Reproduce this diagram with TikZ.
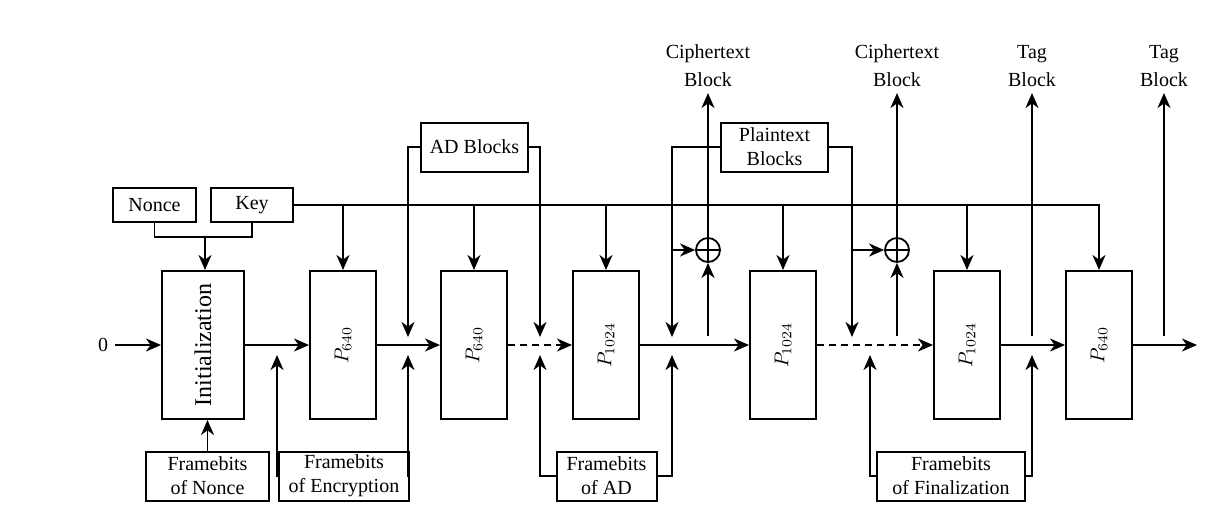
\documentclass[tikz,border=0pt]{standalone}
\usepackage{fontspec}
\setmainfont{Liberation Serif}
\usetikzlibrary{arrows.meta}
\tikzset{perm/.style={black,draw=black,line width=1pt,rectangle,rotate=90,minimum width=74pt,minimum height=33pt,inner sep=0pt}}
\tikzset{initbox/.style={perm,minimum height=41pt,font=\large}}
\tikzset{inbox/.style={black,draw=black,line width=1pt,rectangle,minimum height=17pt,inner sep=0pt}}
\tikzset{framebox/.style={black,draw=black,line width=1pt,rectangle,minimum height=24.5pt,inner sep=0pt,align=center}}
\tikzset{outlbl/.style={black,align=center,inner xsep=1pt,inner ysep=3pt,anchor=south}}
\tikzset{xorc/.style={draw=black,line width=0.9pt,circle,minimum size=12pt,inner sep=0pt,
  path picture={\draw[line width=0.9pt] (path picture bounding box.north) -- (path picture bounding box.south)
  (path picture bounding box.west) -- (path picture bounding box.east);}}}
\tikzset{bus/.style={line width=0.95pt}}
\tikzset{conn/.style={line width=0.95pt,-{Stealth[length=7.5pt,width=6.5pt,inset=2.3pt]}}}

\begin{document}
\begin{tikzpicture}[x=0.5pt,y=-0.5pt]
    \useasboundingbox (0,0) rectangle (1216,521);

    % inputs
    \node[inbox,minimum width=41.5pt] (nonce) at (154.5,205) {Nonce};
    \node[inbox,minimum width=41pt] (key) at (252,205) {Key};
    \node (zero) at (103,345) {0};

    \node[initbox] (init) at (203,345) {Initialization};

    \node[perm] (p1) at (343,345) {$P_{640}$};
    \node[perm] (p2) at (474,345) {$P_{640}$};
    \node[perm] (p3) at (606,345) {$P_{1024}$};
    \node[perm] (p4) at (783,345) {$P_{1024}$};
    \node[perm] (p5) at (967,345) {$P_{1024}$};
    \node[perm] (p6) at (1099,345) {$P_{640}$};

    \node[framebox,minimum width=53.5pt] (ad) at (474.5,147) {AD Blocks};
    \node[framebox,minimum width=53.5pt] (pt) at (774.5,147) {Plaintext\\Blocks};

    \node[framebox,minimum width=61.5pt] (fnonce) at (207.5,476) {Framebits\\of Nonce};
    \node[framebox,minimum width=65pt] (fenc) at (344,476) {Framebits\\of Encryption};
    \node[framebox,minimum width=50pt] (fad) at (606.5,476) {Framebits\\of AD};
    \node[framebox,minimum width=74pt] (ffin) at (951,476) {Framebits\\of Finalization};

    \node[xorc] (x1) at (708,250) {};
    \node[xorc] (x2) at (897,250) {};

    % outputs
    \node[outlbl] (c1) at (708,93) {Ciphertext\\[2pt]Block};
    \node[outlbl] (c2) at (897,93) {Ciphertext\\[2pt]Block};
    \node[outlbl] (t1) at (1032,93) {Tag\\[2pt]Block};
    \node[outlbl] (t2) at (1164,93) {Tag\\[2pt]Block};

    \coordinate (nk) at (205,237);
    \coordinate (out) at (1197,345);
    % points just above / below the state line
    \coordinate (adin) at (408,337);
    \coordinate (adin2) at (540,337);
    \coordinate (ptin) at (672,337);
    \coordinate (ptin2) at (852,337);
    \coordinate (fa) at (277,355);
    \coordinate (fb) at (408,355);
    \coordinate (fc) at (540,355);
    \coordinate (fd) at (672,355);
    \coordinate (fe) at (870,355);
    \coordinate (ff) at (1032,355);
    \coordinate (ca) at (708,336);
    \coordinate (cb) at (897,336);
    \coordinate (ta) at (1032,336);
    \coordinate (tb) at (1164,336);

    % state line
    \draw[conn] (zero) -- (init);
    \draw[conn] (init) -- (p1);
    \draw[conn] (p1) -- (p2);
    \draw[conn,dash pattern=on 3.5pt off 2.5pt] (p2) -- (p3);
    \draw[conn] (p3) -- (p4);
    \draw[conn,dash pattern=on 3.5pt off 2.5pt] (p4) -- (p5);
    \draw[conn] (p5) -- (p6);
    \draw[conn] (p6) -- (out);

    % nonce and key
    \draw[bus] (nonce.south) |- (nk);
    \draw[bus] (key.south) |- (nk);
    \draw[conn] (nk) -- (nk |- init.east);
    \draw[conn] (key.east) -| (p6);
    \draw[conn] (p1 |- key.east) -- (p1);
    \draw[conn] (p2 |- key.east) -- (p2);
    \draw[conn] (p3 |- key.east) -- (p3);
    \draw[conn] (p4 |- key.east) -- (p4);
    \draw[conn] (p5 |- key.east) -- (p5);

    % data blocks
    \draw[conn] (ad.west) -| (adin);
    \draw[conn] (ad.east) -| (adin2);
    \draw[conn] (pt.west) -| (ptin);
    \draw[conn] (pt.east) -| (ptin2);
    \draw[conn] (ptin |- x1) -- (x1);
    \draw[conn] (ptin2 |- x2) -- (x2);

    % framebits
    \draw[conn] (fnonce) -- (fnonce |- init.west);
    \draw[conn] (fenc.west) -| (fa);
    \draw[conn] (fenc.east) -| (fb);
    \draw[conn] (fad.west) -| (fc);
    \draw[conn] (fad.east) -| (fd);
    \draw[conn] (ffin.west) -| (fe);
    \draw[conn] (ffin.east) -| (ff);

    % ciphertext and tag
    \draw[conn] (ca) -- (x1);
    \draw[conn] (x1) -- (c1);
    \draw[conn] (cb) -- (x2);
    \draw[conn] (x2) -- (c2);
    \draw[conn] (ta) -- (t1);
    \draw[conn] (tb) -- (t2);
\end{tikzpicture}
\end{document}
